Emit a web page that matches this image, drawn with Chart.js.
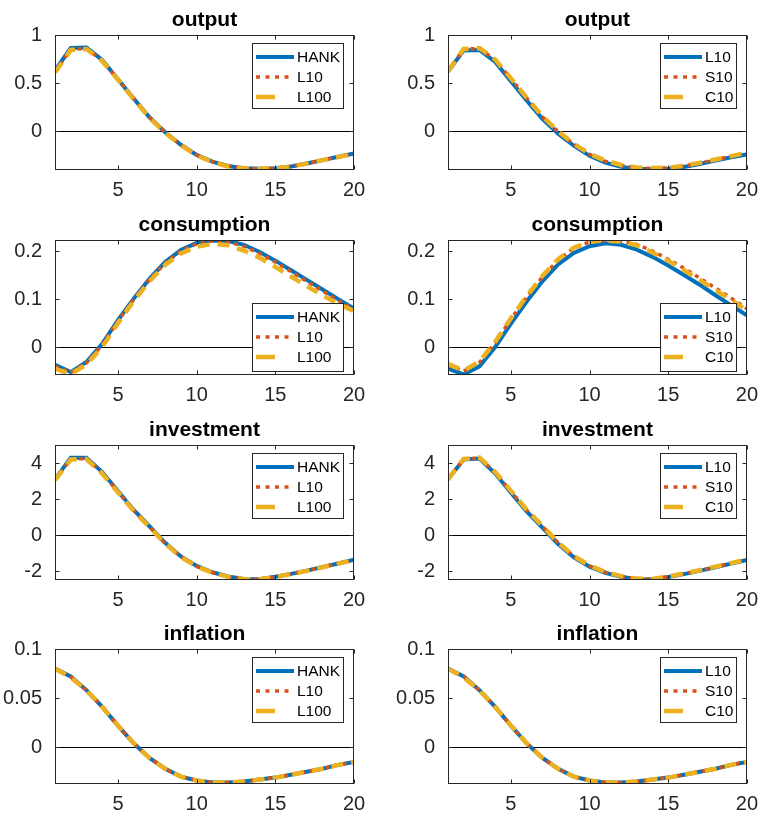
<!DOCTYPE html>
<html>
<head>
<meta charset="utf-8">
<script src="https://cdn.jsdelivr.net/npm/chart.js@4.4.1/dist/chart.umd.min.js"></script>
<style>
body { margin: 0; background: #fff; width: 759px; height: 813px; overflow: hidden; position: relative; }
canvas { position: absolute; }
</style>
</head>
<body>
<canvas id="c0"></canvas><canvas id="c1"></canvas>
<canvas id="c2"></canvas><canvas id="c3"></canvas>
<canvas id="c4"></canvas><canvas id="c5"></canvas>
<canvas id="c6"></canvas><canvas id="c7"></canvas>
<script>
const periods = [1, 2, 3, 4, 5, 6, 7, 8, 9, 10, 11, 12, 13, 14, 15, 16, 17, 18, 19, 20];
const xTicks = [5, 10, 15, 20];

const namesLeft = ['HANK', 'L10', 'L100'];
const namesRight = ['L10', 'S10', 'C10'];

// output
const outHANK = [0.63, 0.865, 0.87, 0.74, 0.54, 0.34, 0.145, -0.01, -0.14, -0.245, -0.315, -0.36, -0.385, -0.39, -0.385, -0.365, -0.335, -0.3, -0.265, -0.23];
const outL10  = [0.62, 0.85, 0.86, 0.735, 0.54, 0.34, 0.145, -0.01, -0.14, -0.245, -0.315, -0.36, -0.385, -0.39, -0.385, -0.365, -0.335, -0.3, -0.265, -0.232];
const outL100 = [0.61, 0.845, 0.855, 0.73, 0.535, 0.335, 0.14, -0.015, -0.145, -0.25, -0.32, -0.365, -0.385, -0.39, -0.385, -0.365, -0.335, -0.3, -0.267, -0.235];
const outRL10 = [0.62, 0.84, 0.845, 0.72, 0.52, 0.32, 0.13, -0.025, -0.15, -0.255, -0.325, -0.37, -0.39, -0.395, -0.39, -0.37, -0.34, -0.305, -0.27, -0.24];
const outS10  = [0.625, 0.855, 0.86, 0.74, 0.545, 0.345, 0.15, -0.005, -0.135, -0.24, -0.31, -0.355, -0.38, -0.385, -0.38, -0.36, -0.33, -0.295, -0.26, -0.225];
const outC10  = [0.625, 0.855, 0.865, 0.745, 0.55, 0.35, 0.155, 0.0, -0.13, -0.235, -0.305, -0.35, -0.375, -0.382, -0.378, -0.358, -0.328, -0.293, -0.258, -0.222];
const outTicks = [0, 0.5, 1];

// consumption
const conHANK = [-0.037, -0.052, -0.031, 0.007, 0.056, 0.101, 0.142, 0.177, 0.202, 0.217, 0.222, 0.221, 0.213, 0.198, 0.18, 0.16, 0.14, 0.12, 0.1, 0.08];
const conL10  = [-0.04, -0.053, -0.033, 0.005, 0.054, 0.099, 0.14, 0.175, 0.2, 0.215, 0.221, 0.219, 0.21, 0.195, 0.177, 0.157, 0.137, 0.117, 0.097, 0.078];
const conL100 = [-0.045, -0.056, -0.036, 0.0, 0.05, 0.096, 0.137, 0.171, 0.195, 0.209, 0.215, 0.212, 0.201, 0.186, 0.167, 0.147, 0.127, 0.108, 0.09, 0.075];
const conRL10 = [-0.045, -0.057, -0.04, 0.0, 0.049, 0.095, 0.137, 0.172, 0.196, 0.21, 0.216, 0.213, 0.203, 0.188, 0.17, 0.15, 0.13, 0.108, 0.087, 0.066];
const conS10  = [-0.037, -0.05, -0.032, 0.009, 0.058, 0.104, 0.146, 0.181, 0.206, 0.219, 0.222, 0.221, 0.214, 0.2, 0.183, 0.164, 0.144, 0.123, 0.102, 0.08];
const conC10  = [-0.035, -0.049, -0.03, 0.011, 0.06, 0.106, 0.148, 0.183, 0.207, 0.22, 0.222, 0.22, 0.212, 0.197, 0.18, 0.16, 0.14, 0.119, 0.098, 0.077];
const conTicks = [0, 0.1, 0.2];

// investment
const invHANK = [3.1, 4.3, 4.3, 3.5, 2.45, 1.4, 0.5, -0.42, -1.17, -1.7, -2.05, -2.28, -2.42, -2.44, -2.3, -2.14, -1.96, -1.76, -1.56, -1.36];
const invL10  = [3.08, 4.22, 4.25, 3.45, 2.42, 1.38, 0.48, -0.44, -1.19, -1.72, -2.06, -2.29, -2.42, -2.44, -2.3, -2.14, -1.96, -1.76, -1.56, -1.36];
const invL100 = [3.05, 4.2, 4.22, 3.42, 2.38, 1.35, 0.45, -0.46, -1.2, -1.73, -2.07, -2.3, -2.43, -2.44, -2.31, -2.15, -1.97, -1.77, -1.57, -1.37];
const invRL10 = [3.1, 4.2, 4.25, 3.42, 2.36, 1.32, 0.42, -0.48, -1.22, -1.74, -2.08, -2.3, -2.43, -2.45, -2.31, -2.15, -1.97, -1.77, -1.57, -1.37];
const invS10  = [3.1, 4.22, 4.28, 3.47, 2.43, 1.39, 0.49, -0.42, -1.17, -1.7, -2.05, -2.28, -2.41, -2.43, -2.29, -2.13, -1.95, -1.75, -1.55, -1.35];
const invC10  = [3.1, 4.23, 4.3, 3.5, 2.46, 1.42, 0.52, -0.4, -1.15, -1.68, -2.03, -2.26, -2.4, -2.42, -2.28, -2.12, -1.94, -1.74, -1.54, -1.34];
const invTicks = [-2, 0, 2, 4];

// inflation
const infHANK = [0.080, 0.072, 0.058, 0.041, 0.022, 0.004, -0.011, -0.022, -0.03, -0.034, -0.036, -0.036, -0.035, -0.033, -0.031, -0.028, -0.025, -0.022, -0.018, -0.015];
const infL10  = [0.080, 0.072, 0.058, 0.041, 0.022, 0.004, -0.011, -0.022, -0.03, -0.034, -0.036, -0.036, -0.035, -0.033, -0.031, -0.028, -0.025, -0.022, -0.018, -0.015];
const infL100 = [0.080, 0.071, 0.058, 0.041, 0.022, 0.004, -0.011, -0.022, -0.03, -0.034, -0.036, -0.036, -0.035, -0.033, -0.031, -0.028, -0.025, -0.022, -0.018, -0.015];
const infRL10 = [0.080, 0.072, 0.058, 0.041, 0.022, 0.004, -0.011, -0.022, -0.03, -0.034, -0.036, -0.036, -0.035, -0.033, -0.031, -0.028, -0.025, -0.022, -0.018, -0.015];
const infS10  = [0.080, 0.072, 0.058, 0.041, 0.022, 0.004, -0.011, -0.022, -0.03, -0.034, -0.036, -0.036, -0.035, -0.033, -0.031, -0.028, -0.025, -0.022, -0.018, -0.015];
const infC10  = [0.080, 0.071, 0.058, 0.041, 0.022, 0.004, -0.011, -0.022, -0.03, -0.034, -0.036, -0.036, -0.035, -0.033, -0.031, -0.028, -0.025, -0.022, -0.018, -0.015];
const infTicks = [0, 0.05, 0.1];

// line looks, matlab default colours
const looks = [
    { color: '#0072BD', width: 4,   dash: [],      legDash: [] },
    { color: '#D95319', width: 3.5, dash: [4, 4.5], legDash: [4, 5.5] },
    { color: '#EDB120', width: 4.5, dash: [12, 8], legDash: [19, 40] }
];

const FONT = '"Liberation Sans", Arial, Helvetica, sans-serif';
const INK = '#262626';

// box, inner ticks, zero line, title, legend
const frame = {
    id: 'frame',
    beforeDatasetsDraw(chart) {
        const { ctx, chartArea: a } = chart;
        const y0 = Math.round(chart.scales.y.getPixelForValue(0)) + 0.5;
        ctx.save();
        ctx.strokeStyle = '#000';
        ctx.lineWidth = 1;
        ctx.beginPath();
        ctx.moveTo(a.left, y0);
        ctx.lineTo(a.right, y0);
        ctx.stroke();
        ctx.restore();
    },
    afterDatasetsDraw(chart) {
        const { ctx, chartArea: a, scales } = chart;
        const L = Math.round(a.left) + 0.5, R = Math.round(a.right) - 0.5;
        const T = Math.round(a.top) + 0.5, B = Math.round(a.bottom) - 0.5;
        ctx.save();
        ctx.strokeStyle = INK;
        ctx.lineWidth = 1;
        ctx.strokeRect(L, T, R - L, B - T);
        ctx.beginPath();
        scales.x.ticks.forEach(t => {
            const px = Math.round(scales.x.getPixelForValue(t.value)) + 0.5;
            ctx.moveTo(px, B); ctx.lineTo(px, B - 4);
            ctx.moveTo(px, T); ctx.lineTo(px, T + 4);
        });
        scales.y.ticks.forEach(t => {
            const py = Math.round(scales.y.getPixelForValue(t.value)) + 0.5;
            ctx.moveTo(L, py); ctx.lineTo(L + 4, py);
            ctx.moveTo(R, py); ctx.lineTo(R - 4, py);
        });
        ctx.stroke();
        ctx.restore();
    },
    afterDraw(chart, args, opts) {
        const { ctx, chartArea: a } = chart;
        ctx.save();
        // title
        ctx.fillStyle = '#000';
        ctx.font = 'bold 21px ' + FONT;
        ctx.textAlign = 'center';
        ctx.textBaseline = 'alphabetic';
        ctx.fillText(opts.title, (a.left + a.right) / 2, a.top - 9);

        // legend
        ctx.font = '15.5px ' + FONT;
        let tw = 0;
        opts.names.forEach(n => { tw = Math.max(tw, ctx.measureText(n).width); });
        const w = Math.round(45 + tw + 4);
        const h = opts.pos === 'se' ? 69 : 66;
        const right = Math.round(a.right) - 10;
        const top = opts.pos === 'se' ? Math.round(a.bottom) - 3 - h : Math.round(a.top) + 8;
        const left = right - w;
        ctx.fillStyle = '#fff';
        ctx.fillRect(left, top, w, h);
        ctx.strokeStyle = INK;
        ctx.lineWidth = 1;
        ctx.strokeRect(left + 0.5, top + 0.5, w - 1, h - 1);
        opts.names.forEach((n, i) => {
            const yy = top + 14 + i * 20;
            const lk = looks[i];
            ctx.strokeStyle = lk.color;
            ctx.lineWidth = lk.width;
            ctx.lineCap = 'butt';
            ctx.setLineDash(lk.legDash);
            ctx.beginPath();
            ctx.moveTo(left + 4, yy);
            ctx.lineTo(left + 42, yy);
            ctx.stroke();
            ctx.setLineDash([]);
            ctx.fillStyle = '#000';
            ctx.textAlign = 'left';
            ctx.textBaseline = 'middle';
            ctx.fillText(n, left + 45, yy + 1);
        });
        ctx.restore();
    }
};

const panels = [
    { title: 'output',      names: namesLeft,  series: [outHANK, outL10, outL100], min: -0.397, max: 1,     ticks: outTicks, pos: 'ne' },
    { title: 'output',      names: namesRight, series: [outRL10, outS10, outC10],  min: -0.397, max: 1,     ticks: outTicks, pos: 'ne' },
    { title: 'consumption', names: namesLeft,  series: [conHANK, conL10, conL100], min: -0.057, max: 0.223, ticks: conTicks, pos: 'se' },
    { title: 'consumption', names: namesRight, series: [conRL10, conS10, conC10],  min: -0.057, max: 0.223, ticks: conTicks, pos: 'se' },
    { title: 'investment',  names: namesLeft,  series: [invHANK, invL10, invL100], min: -2.45,  max: 5,     ticks: invTicks, pos: 'ne' },
    { title: 'investment',  names: namesRight, series: [invRL10, invS10, invC10],  min: -2.45,  max: 5,     ticks: invTicks, pos: 'ne' },
    { title: 'inflation',   names: namesLeft,  series: [infHANK, infL10, infL100], min: -0.037, max: 0.1,   ticks: infTicks, pos: 'ne' },
    { title: 'inflation',   names: namesRight, series: [infRL10, infS10, infC10],  min: -0.037, max: 0.1,   ticks: infTicks, pos: 'ne' }
];

const rowTops = [0, 205, 410, 614];
const rowHeights = [205, 205, 204, 199];

panels.forEach((p, k) => {
    const col = k % 2, row = Math.floor(k / 2);
    const cv = document.getElementById('c' + k);
    const W = col === 0 ? 380 : 379;
    const H = rowHeights[row];
    cv.width = W; cv.height = H;
    cv.style.left = (col === 0 ? 0 : 380) + 'px';
    cv.style.top = rowTops[row] + 'px';
    cv.style.width = W + 'px'; cv.style.height = H + 'px';

    const yAxisW = col === 0 ? 55 : 68;
    const padRight = col === 0 ? 26 : 11;
    const xAxisH = H - 169.5;

    new Chart(cv, {
        type: 'line',
        data: {
            datasets: p.series.map((s, i) => ({
                label: p.names[i],
                data: periods.map((x, j) => ({ x: x, y: s[j] })),
                borderColor: looks[i].color,
                borderWidth: looks[i].width,
                borderDash: looks[i].dash,
                borderCapStyle: 'butt',
                pointRadius: 0,
                tension: 0,
                fill: false,
                order: 2 - i
            }))
        },
        options: {
            responsive: false,
            animation: false,
            devicePixelRatio: 1,
            layout: { padding: { top: 35, right: padRight, left: 0, bottom: 0 } },
            plugins: {
                legend: { display: false },
                tooltip: { enabled: false },
                frame: { title: p.title, names: p.names, pos: p.pos }
            },
            scales: {
                x: {
                    type: 'linear', min: 1, max: 20,
                    afterBuildTicks: s => { s.ticks = xTicks.map(v => ({ value: v })); },
                    afterFit: s => { s.height = xAxisH; },
                    grid: { display: false },
                    border: { display: false },
                    ticks: { color: INK, font: { family: FONT, size: 20 }, padding: 1, maxRotation: 0, callback: v => String(v) }
                },
                y: {
                    type: 'linear', min: p.min, max: p.max,
                    afterBuildTicks: s => { s.ticks = p.ticks.map(v => ({ value: v })); },
                    afterFit: s => { s.width = yAxisW; },
                    grid: { display: false },
                    border: { display: false },
                    ticks: { color: INK, font: { family: FONT, size: 20 }, padding: 5, callback: v => String(v) }
                }
            }
        },
        plugins: [frame]
    });
});
</script>
</body>
</html>
